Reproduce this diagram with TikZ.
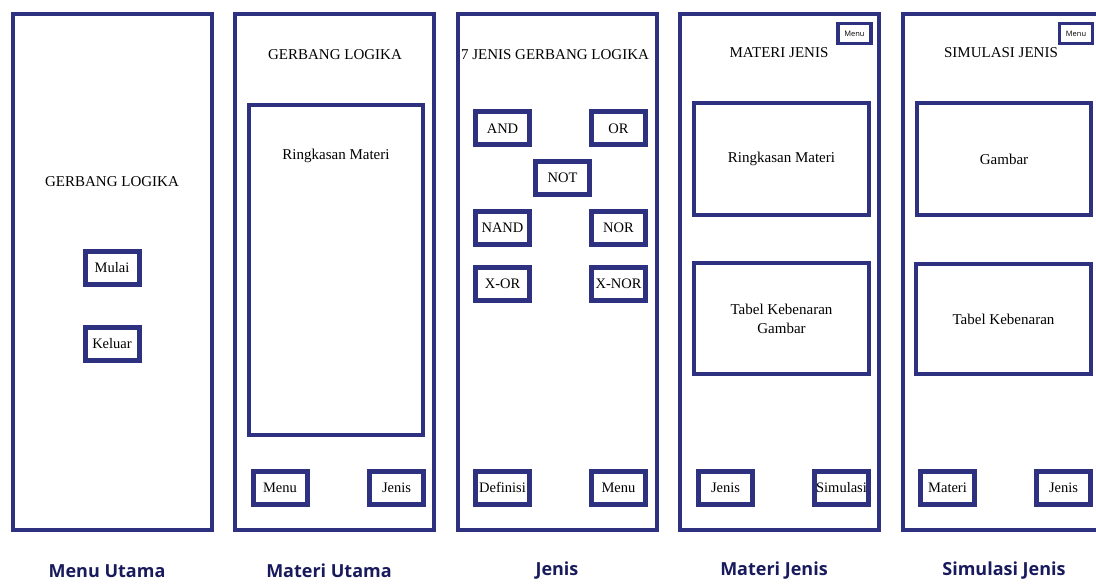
\documentclass[tikz,border=0pt]{standalone}
\usepackage{fontspec}
\setmainfont{Liberation Serif}
\newfontfamily\capfont{Open Sans}
\usepackage{xcolor}
\usetikzlibrary{positioning}

\definecolor{navy}{RGB}{46,48,128}
\definecolor{capblue}{RGB}{24,26,92}

\tikzset{
    screen/.style={draw=navy, line width=4pt, minimum width=199pt, minimum height=516pt, inner sep=0pt},
    panel/.style={draw=navy, line width=4pt, inner sep=0pt, align=center, font=\fontsize{15}{19}\selectfont},
    btn/.style={draw=navy, line width=5pt, minimum width=54pt, minimum height=33pt,
        inner sep=0.5pt, text height=11pt, text depth=1.5pt, font=\fontsize{14.5}{16}\selectfont},
    minibtn/.style={draw=navy, line width=3.5pt, minimum width=33pt, minimum height=20pt,
        inner sep=0pt, font=\capfont\fontsize{7.5}{8}\selectfont},
    title/.style={font=\fontsize{15}{17}\selectfont, inner sep=0pt},
    caption/.style={font=\capfont\bfseries\fontsize{18}{20}\selectfont, text=capblue, inner sep=0pt}
}

\begin{document}
\begin{tikzpicture}[x=1pt, y=-1pt]
    \useasboundingbox (0, 0) rectangle (1096, 588);

    % Screens
    \foreach \x/\id in {112.5/s1, 334.5/s2, 557/s3, 779.5/s4, 1002/s5} {
        \node[screen] (\id) at (\x, 272) {};
    }

    % Menu Utama
    \node[title] (t1) at (112, 182) {GERBANG LOGIKA};
    \node[btn] (mulai) at (112, 268) {Mulai};
    \node[btn] (keluar) at (112, 344) {Keluar};

    % Materi Utama
    \node[title] (t2) at (335, 55) {GERBANG LOGIKA};
    \node[panel, minimum width=174pt, minimum height=330pt] (ringkas2) at (336, 270) {};
    \node[title, below=46pt of ringkas2.north] (r2) {Ringkasan Materi};
    \node[btn] (menu2) at (280, 488) {Menu};
    \node[btn] (jenis2) at (396.5, 488) {Jenis};

    % Jenis
    \node[title] (t3) at (555, 55) {7 JENIS GERBANG LOGIKA};
    \foreach \x/\y/\id/\lab in {
        502.5/128.5/and/{AND},
        618.5/128.5/or/{OR},
        562.5/178/not/{NOT},
        502.5/228/nand/{NAND},
        618.5/228/nor/{NOR},
        502.5/284/xor/{X-OR},
        618.5/284/xnor/{X-NOR}} {
        \node[btn] (\id) at (\x, \y) {\lab};
    }
    \node[btn] (definisi) at (502.5, 488) {Definisi};
    \node[btn] (menu3) at (618.5, 488) {Menu};

    % Materi Jenis
    \node[title] (t4) at (779, 53) {MATERI JENIS};
    \node[minibtn] (mini4) at (854.5, 33.5) {Menu};
    \node[panel, minimum width=175pt, minimum height=112pt] (ringkas4) at (781.5, 159) {Ringkasan Materi};
    \node[panel, minimum width=175pt, minimum height=110pt] (tabel4) at (781.5, 318.5) {Tabel Kebenaran\\Gambar};
    \node[btn] (jenis4) at (725.5, 488) {Jenis};
    \node[btn] (simulasi) at (841.5, 488) {Simulasi};

    % Simulasi Jenis
    \node[title] (t5) at (1001, 53) {SIMULASI JENIS};
    \node[minibtn] (mini5) at (1076, 33.5) {Menu};
    \node[panel, minimum width=174pt, minimum height=112pt] (gambar) at (1004, 159) {Gambar};
    \node[panel, minimum width=175pt, minimum height=110pt] (tabel5) at (1003.5, 319) {Tabel Kebenaran};
    \node[btn] (materi5) at (947.5, 488) {Materi};
    \node[btn] (jenis5) at (1063.5, 488) {Jenis};

    % Captions
    \foreach \x/\id/\lab in {
        107/c1/{Menu Utama},
        329/c2/{Materi Utama},
        557/c3/{Jenis},
        774/c4/{Materi Jenis},
        1004/c5/{Simulasi Jenis}} {
        \node[caption] (\id) at (\x, 571) {\lab};
    }
\end{tikzpicture}
\end{document}
